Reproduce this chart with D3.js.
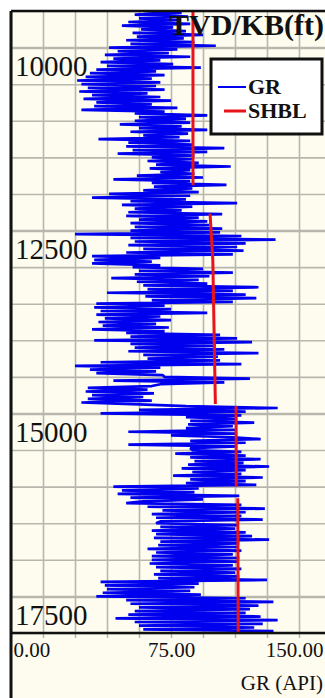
<!DOCTYPE html>
<meta charset="utf-8">
<html>
<head>
<script src="https://d3js.org/d3.v7.min.js"></script>
<style>
  body { margin: 0; background: #fff; }
  svg text { font-family: "Liberation Serif", "Times New Roman", serif; fill: #111; }
</style>
</head>
<body>
<div id="log_viz"></div>
<script>
// GR log sampled every 25 ft from 9500 ft (one row = 500 ft)
const depthTop = 9500;
const depthStep = 25;
const grValues = [
  62, 80, 58, 83, 60, 78, 55, 84, 52, 76, 61, 82, 57, 90, 59, 81, 54, 86, 56, 96,
  46, 78, 50, 74, 44, 84, 48, 70, 42, 76, 45, 89, 40, 68, 37, 72, 35, 66, 31, 70,
  33, 68, 36, 72, 32, 64, 38, 70, 34, 75, 40, 66, 39, 78, 33, 72, 58, 92, 60, 82,
  58, 84, 51, 80, 60, 92, 56, 83, 62, 79, 41, 84, 55, 85, 54, 100, 57, 92, 50, 86,
  66, 85, 64, 88, 68, 103, 65, 84, 70, 86, 59, 90, 48, 84, 66, 101, 67, 85, 62, 88,
  46, 84, 38, 82, 56, 106, 52, 85, 58, 80, 55, 99, 54, 88, 60, 92, 56, 93, 58, 99,
  56, 98, 30, 108, 56, 124, 58, 110, 55, 106, 62, 109, 54, 104, 38, 70, 39, 66, 38, 70,
  57, 90, 60, 104, 58, 93, 47, 88, 59, 92, 62, 116, 64, 104, 45, 110, 63, 115, 66, 104,
  40, 72, 39, 75, 42, 92, 40, 70, 44, 75, 41, 68, 43, 74, 38, 72, 54, 98, 56, 106,
  39, 113, 56, 96, 58, 100, 55, 116, 62, 97, 64, 98, 42, 108, 30, 70, 37, 68, 40, 71,
  72, 112, 48, 100, 70, 66, 36, 64, 35, 67, 38, 62, 36, 66, 33, 60, 82, 125, 60, 110,
  42, 108, 82, 106, 84, 114, 83, 104, 82, 105, 55, 106, 75, 104, 117, 84, 110, 55, 106, 84,
  85, 108, 77, 110, 84, 117, 86, 109, 83, 121, 80, 110, 85, 108, 76, 118, 84, 110, 82, 115,
  48, 88, 52, 86, 50, 107, 56, 90, 62, 54, 108, 64, 119, 71, 110, 66, 108, 68, 118, 70,
  68, 106, 70, 105, 66, 110, 68, 113, 67, 121, 70, 107, 69, 106, 64, 108, 68, 104, 66, 107,
  66, 106, 65, 104, 68, 108, 70, 105, 67, 107, 69, 120, 42, 88, 44, 86, 45, 84, 43, 89,
  40, 110, 54, 123, 56, 116, 60, 112, 58, 110, 55, 117, 49, 125, 58, 118, 60, 114, 62, 123,
  118
];

// shale baseline, null = break between segments
const shblDepth  = [9500, 11880, null, 12270, 12900, 14870, null, 14900, 16000, null, 16160, 18000];
const shblValues = [85.3, 85.3, null, 93.3, 94.6, 95.8, null, 105.5, 105.6, null, 106.3, 106.5];

const depthTicks = [10000, 12500, 15000, 17500];
const grTicks = [0, 75, 150];
const grTickLabels = ["0.00", "75.00", "150.00"];
const seriesNames = ["GR", "SHBL"];
const seriesColors = ["#0000ee", "#e8141b"];

const width = 325, height = 698;
const plotLeft = 11, plotTop = 11, plotRight = 331, plotBottom = 633;

const x = d3.scaleLinear().domain([0, 150]).range([plotLeft, plotRight]);
const y = d3.scaleLinear().domain([9500, 18000]).range([plotTop, plotBottom]);

const svg = d3.select("#log_viz").append("svg")
    .attr("width", width)
    .attr("height", height);

svg.append("rect")
    .attr("x", plotLeft).attr("y", plotTop)
    .attr("width", plotRight - plotLeft).attr("height", height - plotTop)
    .attr("fill", "#fdfcef");

// grid
const gridY = d3.range(9500, 18001, 500);
const gridX = d3.range(0, 151, 15);
const gridColor = "#b9b6ae";

svg.append("g")
    .attr("transform", `translate(${plotLeft},0)`)
    .call(d3.axisRight(y).tickValues(gridY).tickSize(plotRight - plotLeft).tickFormat(""))
    .call(g => g.select(".domain").remove())
    .call(g => g.selectAll(".tick line")
        .attr("stroke", gridColor)
        .attr("stroke-width", d => depthTicks.includes(d) ? 2.5 : 1.6));

svg.append("g")
    .attr("transform", `translate(0,${plotTop})`)
    .call(d3.axisBottom(x).tickValues(gridX).tickSize(plotBottom - plotTop).tickFormat(""))
    .call(g => g.select(".domain").remove())
    .call(g => g.selectAll(".tick line")
        .attr("stroke", gridColor)
        .attr("stroke-width", 1.6));

// small ticks under the track
svg.append("g")
    .attr("transform", `translate(0,${plotBottom})`)
    .call(d3.axisBottom(x).tickValues(gridX).tickSize(5).tickFormat(""))
    .call(g => g.select(".domain").remove())
    .call(g => g.selectAll(".tick line").attr("stroke", gridColor).attr("stroke-width", 1.5));

svg.append("clipPath").attr("id", "track")
    .append("rect")
    .attr("x", plotLeft).attr("y", plotTop)
    .attr("width", plotRight - plotLeft).attr("height", plotBottom - plotTop);

const grData = grValues.map((v, i) => ({ depth: depthTop + i * depthStep, gr: v }));

const grLine = d3.line()
    .x(d => x(d.gr))
    .y(d => y(d.depth));

svg.append("path")
    .datum(grData)
    .attr("clip-path", "url(#track)")
    .attr("fill", "none")
    .attr("stroke", seriesColors[0])
    .attr("stroke-width", 2.7)
    .attr("stroke-linejoin", "bevel")
    .attr("d", grLine);

const shblData = shblDepth.map((d, i) => ({ depth: d, gr: shblValues[i] }));

svg.append("path")
    .datum(shblData)
    .attr("clip-path", "url(#track)")
    .attr("fill", "none")
    .attr("stroke", seriesColors[1])
    .attr("stroke-width", 3)
    .attr("d", d3.line()
        .defined(d => d.depth !== null)
        .x(d => x(d.gr))
        .y(d => y(d.depth)));

// frame
svg.append("line")
    .attr("x1", plotLeft).attr("x2", width).attr("y1", plotTop).attr("y2", plotTop)
    .attr("stroke", "#111").attr("stroke-width", 2.5);
svg.append("line")
    .attr("x1", plotLeft).attr("x2", width).attr("y1", plotBottom).attr("y2", plotBottom)
    .attr("stroke", "#111").attr("stroke-width", 2.5);
svg.append("line")
    .attr("x1", plotLeft).attr("x2", plotLeft).attr("y1", plotTop).attr("y2", height)
    .attr("stroke", "#111").attr("stroke-width", 3);

// depth labels hang under the major lines
svg.append("g")
    .attr("transform", `translate(${plotLeft},0)`)
    .call(d3.axisRight(y).tickValues(depthTicks).tickSize(0).tickFormat(d3.format("d")))
    .call(g => g.select(".domain").remove())
    .call(g => g.selectAll(".tick text")
        .attr("x", 4)
        .attr("dy", 28)
        .attr("fill", "#111")
        .attr("font-size", 29)
        .attr("font-family", "Liberation Serif, serif")
        .attr("text-anchor", "start"));

// GR axis labels
svg.append("g")
    .attr("transform", `translate(0,${plotBottom})`)
    .call(d3.axisBottom(x).tickValues(grTicks).tickSize(0).tickFormat((d, i) => grTickLabels[i]))
    .call(g => g.select(".domain").remove())
    .call(g => g.selectAll(".tick text")
        .attr("y", 24)
        .attr("dy", 0)
        .attr("fill", "#111")
        .attr("font-size", 21)
        .attr("font-family", "Liberation Serif, serif")
        .attr("text-anchor", (d, i) => i === 0 ? "start" : i === grTicks.length - 1 ? "end" : "middle")
        .attr("dx", (d, i) => i === 0 ? 2 : i === grTicks.length - 1 ? -8 : 0));

svg.append("text")
    .attr("x", 323).attr("y", 690)
    .attr("text-anchor", "end")
    .attr("font-size", 21)
    .text("GR (API)");

svg.append("text")
    .attr("x", 324).attr("y", 35)
    .attr("text-anchor", "end")
    .attr("font-size", 30)
    .attr("font-weight", "bold")
    .text("TVD/KB(ft)");

// legend
const legend = svg.append("g");
legend.append("rect")
    .attr("x", 211).attr("y", 59)
    .attr("width", 111).attr("height", 75)
    .attr("fill", "#fff")
    .attr("stroke", "#111").attr("stroke-width", 3);

const item = legend.selectAll(".item")
    .data(seriesNames)
    .join("g")
    .attr("transform", (d, i) => `translate(0,${87 + i * 24})`);

item.append("line")
    .attr("x1", (d, i) => i === 0 ? 218 : 224).attr("x2", 246)
    .attr("stroke", (d, i) => seriesColors[i])
    .attr("stroke-width", (d, i) => i === 0 ? 2 : 3);

item.append("text")
    .attr("x", 248).attr("y", 7)
    .attr("font-size", 22)
    .attr("font-weight", "bold")
    .text(d => d);
</script>
</body>
</html>
